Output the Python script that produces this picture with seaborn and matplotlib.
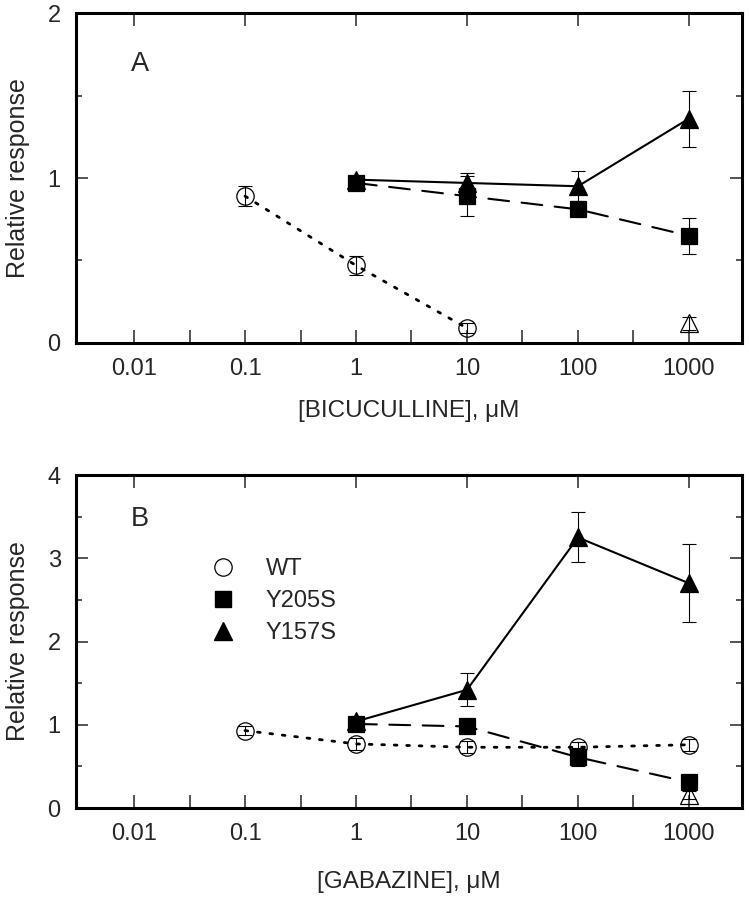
import numpy as np
import pandas as pd
import seaborn as sns
import matplotlib.pyplot as plt
from matplotlib.lines import Line2D
from matplotlib.ticker import FixedLocator, FixedFormatter, NullFormatter

# concentrations (uM)
conc_wt = [0.1, 1, 10]
conc_wt_b = [0.1, 1, 10, 100, 1000]
conc_mut = [1, 10, 100, 1000]
conc_open = [1000]

# panel A - bicuculline
wt_a = [0.89, 0.47, 0.09]
wt_a_err = [0.06, 0.06, 0.03]
y205s_a = [0.97, 0.89, 0.81, 0.65]
y205s_a_err = [0.03, 0.12, 0.04, 0.11]
y157s_a = [0.99, 0.97, 0.95, 1.36]
y157s_a_err = [0.02, 0.06, 0.09, 0.17]
open_a = [0.12]
open_a_err = [0.04]

# panel B - gabazine
wt_b = [0.93, 0.77, 0.73, 0.73, 0.76]
wt_b_err = [0.05, 0.07, 0.07, 0.06, 0.07]
y205s_b = [1.01, 0.98, 0.61, 0.31]
y205s_b_err = [0.03, 0.03, 0.11, 0.03]
y157s_b = [1.04, 1.42, 3.25, 2.70]
y157s_b_err = [0.05, 0.20, 0.30, 0.47]
open_b = [0.16]
open_b_err = [0.05]

xticks = [0.01, 0.1, 1, 10, 100, 1000]
xticklabels = ["0.01", "0.1", "1", "10", "100", "1000"]

sns.set_style("ticks")
plt.rcParams['font.family'] = ['Liberation Sans', 'DejaVu Sans']

FS = 17


def series(ax, x, y, err, marker, ms, fill, ls, lw, z):
    df = pd.DataFrame({"conc": x, "resp": y})
    sns.lineplot(data=df, x="conc", y="resp", ax=ax, color="k", errorbar=None,
                 marker=marker, markersize=ms, markerfacecolor=fill,
                 markeredgecolor="k", markeredgewidth=0.9,
                 linestyle=ls, linewidth=lw, dash_capstyle="round", zorder=z)
    ax.errorbar(x, y, yerr=err, fmt="none", ecolor="k", elinewidth=0.8,
                capsize=5, capthick=0.8, zorder=z - 0.5)


def style(ax, ymax, label):
    ax.set_xscale("log")
    ax.set_xlim(0.003, 3000)
    ax.set_ylim(0, ymax)
    ax.xaxis.set_major_locator(FixedLocator(xticks))
    ax.xaxis.set_major_formatter(FixedFormatter(xticklabels))
    ax.xaxis.set_minor_locator(FixedLocator(10 ** np.arange(-1.5, 3, 1.0)))
    ax.xaxis.set_minor_formatter(NullFormatter())
    ax.yaxis.set_major_locator(FixedLocator(np.arange(0, ymax + 0.1, 1)))
    ax.yaxis.set_minor_locator(FixedLocator(np.arange(0.5, ymax, 1)))
    ax.set_yticklabels([str(int(v)) for v in np.arange(0, ymax + 0.1, 1)])
    ax.tick_params(axis="x", which="both", direction="in", length=9.4, width=1.1,
                   labelsize=FS, pad=11, top=False, bottom=True)
    ax.tick_params(axis="x", which="major", top=True)
    ax.tick_params(axis="y", which="major", direction="in", length=8.6, width=1.1,
                   labelsize=FS, pad=11, left=True, right=True)
    ax.tick_params(axis="y", which="minor", direction="in", length=4.5, width=1.1,
                   left=True, right=True)
    for s in ax.spines.values():
        s.set_linewidth(2.2)
        s.set_color("k")
    ax.set_ylabel("Relative response", fontsize=18)
    ax.yaxis.label.set_va("center")
    ax.yaxis.set_label_coords(-0.087, 0.5)
    ax.set_xlabel(label, fontsize=17.5)
    ax.xaxis.label.set_va("center")


fig = plt.figure(figsize=(7.49, 8.99), dpi=100)
ax_a = fig.add_axes([0.1015, 0.6185, 0.889, 0.367])
ax_b = fig.add_axes([0.1015, 0.1012, 0.889, 0.3704])

dot = (0, (1, 3.5))
dash = (0, (10, 6))

# panel A
series(ax_a, conc_wt, wt_a, wt_a_err, "o", 12.5, "none", dot, 2, 3)
series(ax_a, conc_mut, y157s_a, y157s_a_err, "^", 13, "k", "-", 1.5, 4)
series(ax_a, conc_mut, y205s_a, y205s_a_err, "s", 12, "k", dash, 1.5, 5)
series(ax_a, conc_open, open_a, open_a_err, "^", 13, "none", "none", 1.5, 4)
style(ax_a, 2, "[BICUCULLINE], \u03bcM")
ax_a.xaxis.set_label_coords(0.5, -0.206)
ax_a.text(0.096, 0.846, "A", transform=ax_a.transAxes, fontsize=19.5,
          ha="center", va="center")

# panel B
series(ax_b, conc_wt_b, wt_b, wt_b_err, "o", 12.5, "none", dot, 2, 6)
series(ax_b, conc_mut, y157s_b, y157s_b_err, "^", 13, "k", "-", 1.5, 4)
series(ax_b, conc_mut, y205s_b, y205s_b_err, "s", 12, "k", dash, 1.5, 5)
series(ax_b, conc_open, open_b, open_b_err, "^", 13, "none", "none", 1.5, 4)
style(ax_b, 4, "[GABAZINE], \u03bcM")
ax_b.xaxis.set_label_coords(0.5, -0.222)
ax_b.text(0.096, 0.869, "B", transform=ax_b.transAxes, fontsize=19.5,
          ha="center", va="center")

handles = [
    Line2D([], [], color="k", linestyle="none", marker="o", markersize=12.5,
           markerfacecolor="none", markeredgewidth=0.9),
    Line2D([], [], color="k", linestyle="none", marker="s", markersize=12),
    Line2D([], [], color="k", linestyle="none", marker="^", markersize=13),
]
ax_b.legend(handles, ["WT", "Y205S", "Y157S"], loc="center left",
            bbox_to_anchor=(0.203, 0.622), frameon=False, fontsize=FS,
            handlelength=1.0, handletextpad=1.3, labelspacing=0.42,
            borderpad=0, borderaxespad=0)

plt.savefig("out.png", dpi=100)
plt.close()
